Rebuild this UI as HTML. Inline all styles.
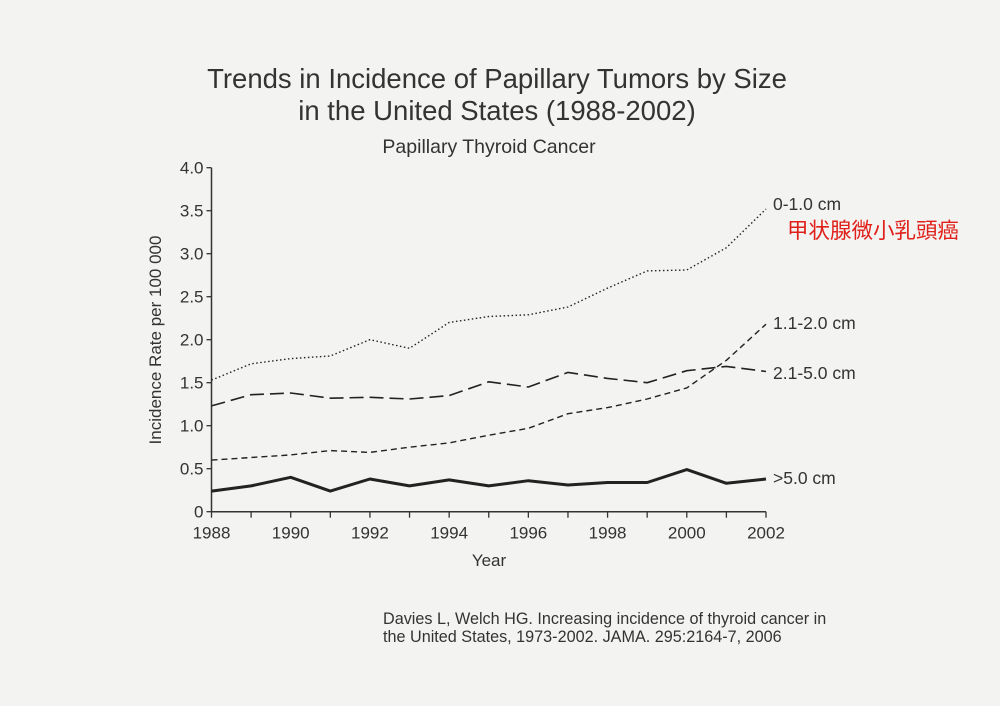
<!DOCTYPE html>
<html><head><meta charset="utf-8"><style>
html,body{margin:0;padding:0;background:#f3f3f1;}
svg{display:block;font-family:"Liberation Sans","Noto Sans CJK JP",sans-serif;}
</style></head><body>
<svg id="chart" width="1000" height="706" viewBox="0 0 1000 706">
<rect x="0" y="0" width="1000" height="706" fill="#f3f3f1"/>
<text x="497" y="88" font-size="27.5" text-anchor="middle" fill="#333">Trends in Incidence of Papillary Tumors by Size</text>
<text x="497" y="120" font-size="27.5" text-anchor="middle" fill="#333">in the United States (1988-2002)</text>
<text x="489" y="153" font-size="19.5" text-anchor="middle" fill="#333">Papillary Thyroid Cancer</text>
<text x="787" y="238" font-size="21.5" fill="#e0201a">甲状腺微小乳頭癌</text>
<text x="383" y="624" font-size="16.2" fill="#333">Davies L, Welch HG. Increasing incidence of thyroid cancer in</text>
<text x="383" y="642" font-size="16.2" fill="#333">the United States, 1973-2002. JAMA. 295:2164-7, 2006</text>
<text transform="translate(161,340) rotate(-90)" font-size="17" text-anchor="middle" fill="#333">Incidence Rate per 100 000</text>
<text x="489" y="566" font-size="17" text-anchor="middle" fill="#333">Year</text>
<g id="axes"></g>
<g id="series"></g>
</svg>
<script>
const years=[1988,1989,1990,1991,1992,1993,1994,1995,1996,1997,1998,1999,2000,2001,2002];
const s0to1=[1.53,1.72,1.78,1.81,2.0,1.9,2.2,2.27,2.29,2.38,2.6,2.8,2.81,3.07,3.52];
const s1to2=[0.6,0.63,0.66,0.71,0.69,0.75,0.8,0.89,0.97,1.14,1.21,1.31,1.44,1.76,2.18];
const s2to5=[1.23,1.36,1.38,1.32,1.33,1.31,1.35,1.51,1.45,1.62,1.55,1.5,1.64,1.69,1.63];
const sOver5=[0.24,0.3,0.4,0.24,0.38,0.3,0.37,0.3,0.36,0.31,0.34,0.34,0.49,0.33,0.38];
const yTicks=[0,0.5,1.0,1.5,2.0,2.5,3.0,3.5,4.0];
const yTickLabels=["0","0.5","1.0","1.5","2.0","2.5","3.0","3.5","4.0"];
const xLabelYears=[1988,1990,1992,1994,1996,1998,2000,2002];
const seriesNames=["0-1.0 cm","1.1-2.0 cm","2.1-5.0 cm",">5.0 cm"];
const NS="http://www.w3.org/2000/svg";
const X=y=>211.5+(y-1988)*(766-211.5)/14;
const Y=v=>511.7-v*(511.7-167.7)/4;
const ax=document.getElementById('axes'),sg=document.getElementById('series');
function mk(t,a,p){const e=document.createElementNS(NS,t);for(const k in a)e.setAttribute(k,a[k]);p.appendChild(e);return e;}
let e=mk('line',{x1:X(1988),y1:Y(0),x2:X(2002),y2:Y(0),stroke:'#333','stroke-width':1.5},ax);


e=mk('line',{x1:X(1988),y1:Y(0),x2:X(1988),y2:Y(4),stroke:'#333','stroke-width':1.5},ax);


yTicks.forEach((v,i)=>{
 e=mk('line',{x1:X(1988)-5,y1:Y(v),x2:X(1988),y2:Y(v),stroke:'#333','stroke-width':1.3},ax);
 
 
 e=mk('text',{x:X(1988)-8,y:Y(v)+6,'font-size':17,'text-anchor':'end',fill:'#333'},ax);e.textContent=yTickLabels[i];
 
 
});
years.forEach(yr=>{
 e=mk('line',{x1:X(yr),y1:Y(0),x2:X(yr),y2:Y(0)+6,stroke:'#333','stroke-width':1.3},ax);
 
 
});
xLabelYears.forEach(yr=>{
 e=mk('text',{x:X(yr),y:Y(0)+27,'font-size':17,'text-anchor':'middle',fill:'#333'},ax);e.textContent=yr;
 
 
});
const styles=[{d:'1.5 2.5',w:1.4},{d:'6 4',w:1.4},{d:'14 6',w:1.6},{d:'',w:3}];
const data=[s0to1,s1to2,s2to5,sOver5];
const labelY=[204,323,373,478];
data.forEach((arr,i)=>{
 const pts=arr.map((v,j)=>X(years[j]).toFixed(1)+','+Y(v).toFixed(1)).join(' ');
 e=mk('polyline',{points:pts,fill:'none',stroke:'#222','stroke-width':styles[i].w,'stroke-dasharray':styles[i].d,'stroke-linejoin':'round'},sg);
 
 
 e=mk('text',{x:773,y:labelY[i]+6,'font-size':17.5,fill:'#333'},sg);e.textContent=seriesNames[i];
 
 
});
</script>
</body></html>
